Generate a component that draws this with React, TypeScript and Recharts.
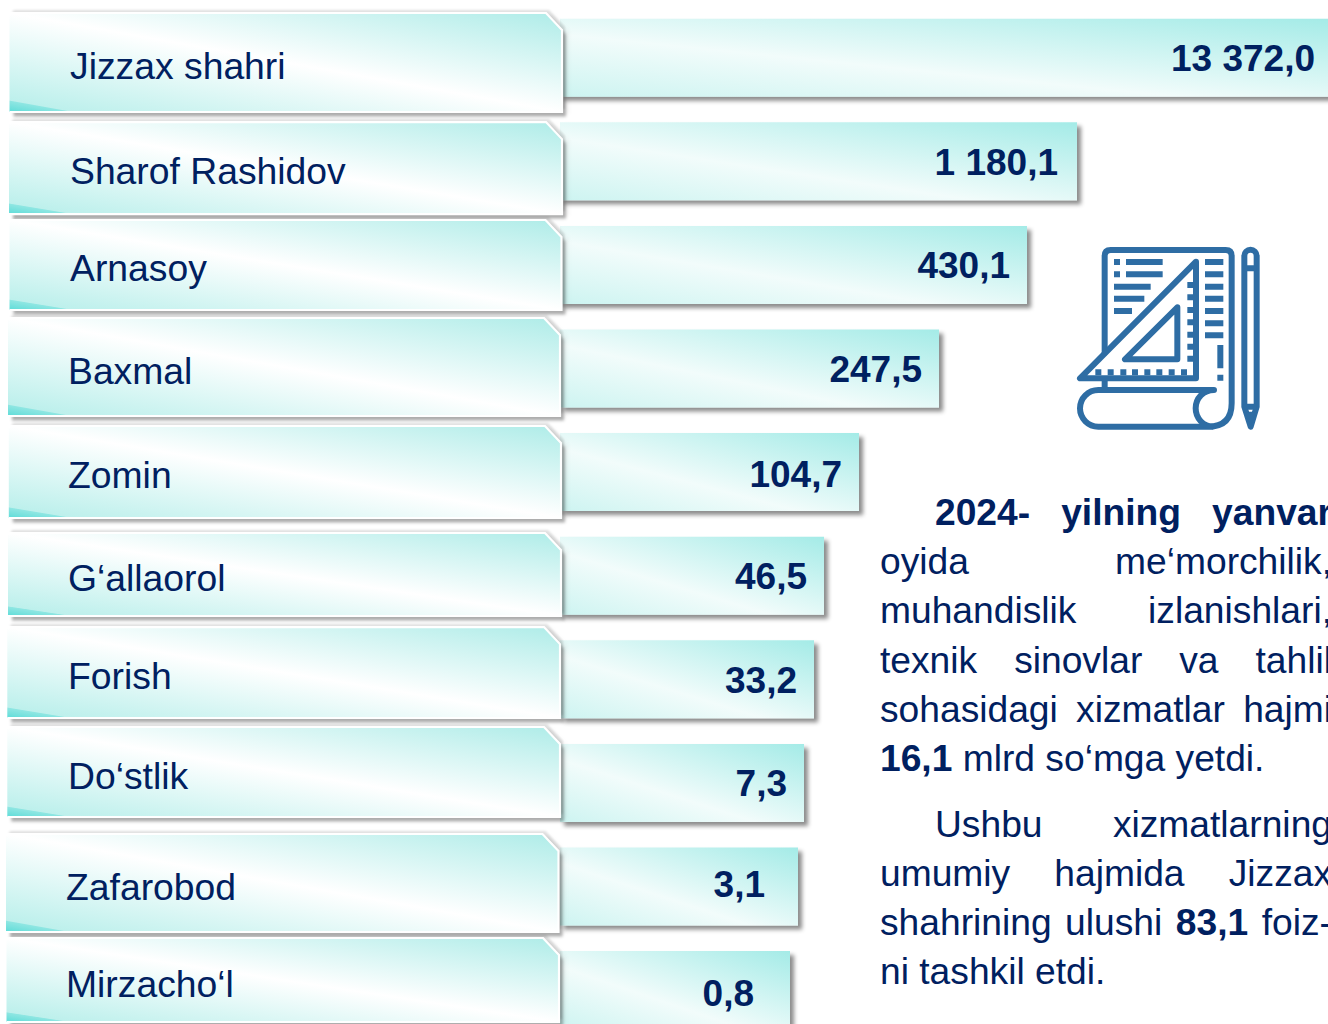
import { Bar, BarChart, LabelList, XAxis, YAxis } from "recharts";

const districts = [
  "Jizzax shahri",
  "Sharof Rashidov",
  "Arnasoy",
  "Baxmal",
  "Zomin",
  "G‘allaorol",
  "Forish",
  "Do‘stlik",
  "Zafarobod",
  "Mirzacho‘l",
];
const volumes = [13372.0, 1180.1, 430.1, 247.5, 104.7, 46.5, 33.2, 7.3, 3.1, 0.8];

const chartData = districts.map((name, i) => ({ name, volume: volumes[i] }));

// the source infographic is not drawn to a linear scale, so the axis is piecewise
const scaleValues = [0, 0.8, 3.1, 7.3, 33.2, 46.5, 104.7, 247.5, 430.1, 1180.1, 13372];
const scaleLengths = [0, 230, 238, 244, 254, 264, 299, 379, 467, 517, 773];

// label plates are hand placed around each row centre
const plateTop = [-44.5, -39, -44.7, -50.3, -45.9, -42.5, -52, -55.7, -52.3, -51.9];
const plateBottom = [54.5, 53, 45.3, 47.7, 46.1, 40.5, 38.9, 34.3, 45.7, 32.1];
const plateLeft = [9.5, 9, 9.5, 8, 8.8, 8, 7.3, 7.3, 6, 6.5];
const plateRight = [562, 562, 561.5, 560, 561, 561, 560, 560, 558.5, 559];
const nameX = [70, 70, 70, 68, 68, 68, 68, 68, 66, 66];
const nameDy = [21.8, 22.6, 16.3, 16, 16.1, 15.5, 9.9, 6.3, 13.7, 6.8];
const valueInset = [18, 19, 17, 17, 17, 17, 17, 17, 33, 36];
const valueDy = [13, 14, 13, 13.7, 15, 13.5, 14, 13.3, 10.7, 16];

const NAVY = "#002060";
const FONT = '"Liberation Sans", Arial, sans-serif';

const paragraphLines = [
  { top: 525, indent: 55, justify: true, parts: [["2024- yilning yanvar", true]] },
  { top: 574, indent: 0, justify: true, parts: [["oyida me‘morchilik,", false]] },
  { top: 623, indent: 0, justify: true, parts: [["muhandislik izlanishlari,", false]] },
  { top: 673, indent: 0, justify: true, parts: [["texnik sinovlar va tahlil", false]] },
  { top: 722, indent: 0, justify: true, parts: [["sohasidagi xizmatlar hajmi", false]] },
  { top: 771, indent: 0, justify: false, parts: [["16,1", true], [" mlrd so‘mga yetdi.", false]] },
  { top: 837, indent: 55, justify: true, parts: [["Ushbu xizmatlarning", false]] },
  { top: 886, indent: 0, justify: true, parts: [["umumiy hajmida Jizzax", false]] },
  { top: 935, indent: 0, justify: true, parts: [["shahrining ulushi ", false], ["83,1", true], [" foiz-", false]] },
  { top: 984, indent: 0, justify: false, parts: [["ni tashkil etdi.", false]] },
] as const;

function piecewiseScale(dom: number[] = [0, 13372], rng: number[] = [0, 1]) {
  const scale: any = (value: number) => {
    let i = 1;
    while (i < scaleValues.length - 1 && value > scaleValues[i]) i++;
    const t = (value - scaleValues[i - 1]) / (scaleValues[i] - scaleValues[i - 1]);
    return rng[0] + scaleLengths[i - 1] + t * (scaleLengths[i] - scaleLengths[i - 1]);
  };
  scale.domain = (d?: number[]) => {
    if (!d) return dom;
    dom = d;
    return scale;
  };
  scale.range = (r?: number[]) => {
    if (!r) return rng;
    rng = r;
    return scale;
  };
  scale.copy = () => piecewiseScale(dom, rng);
  scale.ticks = () => scaleValues;
  scale.tickFormat = () => (v: number) => String(v);
  return scale;
}

function formatVolume(value: number) {
  const [whole, frac] = value.toFixed(1).split(".");
  return `${whole.replace(/\B(?=(\d{3})+$)/g, " ")},${frac}`;
}

function PlateTick({ y, index, payload }: any) {
  const top = y + plateTop[index];
  const bottom = y + plateBottom[index];
  const left = plateLeft[index];
  const right = plateRight[index];
  const outline = `M${left} ${top + 2}Q${left} ${top} ${left + 3} ${top}H${right - 16}L${right} ${top + 17}V${bottom}H${left}`;
  return (
    <g>
      <path d={`${outline}Z`} fill="url(#plateFill)" filter="url(#plateShadow)" />
      <path d={outline} fill="none" stroke="#fff" strokeWidth={2.2} />
      <text
        x={nameX[index]}
        y={y + nameDy[index]}
        fontFamily={FONT}
        fontSize={37.3}
        fill={NAVY}
      >
        {payload.value}
      </text>
    </g>
  );
}

function ValueLabel({ x, y, width, height, value, index }: any) {
  return (
    <text
      x={x + width - valueInset[index]}
      y={y + height / 2 + valueDy[index]}
      textAnchor="end"
      fontFamily={FONT}
      fontSize={37}
      fontWeight="bold"
      fill={NAVY}
    >
      {formatVolume(value)}
    </text>
  );
}

function DraftingIcon() {
  const sheetLines = [
    "M162 96H180M198 96H308M162 133H180M198 133H308",
    "M162 170H272M162 206H253M162 243H216",
    "M435 96H490M435 133H490M435 170H490M435 206H490M435 243H490M435 280H490M435 316H490",
    "M481 345V415M472 443H490",
  ];
  return (
    <svg
      width={220}
      height={210}
      viewBox="0 0 660 630"
      style={{ position: "absolute", left: 1060, top: 230 }}
    >
      <g fill="none" stroke="#2e6da4" strokeWidth={18}>
        <path d="M134 368V78Q134 60 152 60H497Q515 60 515 78V520Q515 590 445 590H115A55 55 0 0 1 115 480H462" strokeLinejoin="round" strokeLinecap="round" />
        <path d="M462 480C430 480 407 505 407 535C407 565 430 590 460 590" />
        <path d="M134 450V480" />
        <path d="M408 95L60 445H408Z" strokeLinejoin="round" />
        <path d="M352 232L195 388H352Z" strokeLinejoin="round" />
        <path d="M382 165H400M382 202H400M382 240H400M382 277H400M382 314H400M382 350H400M382 386H400" />
        <path d="M115 418V436M152 418V436M190 418V436M225 418V436M262 418V436M298 418V436M335 418V436M372 418V436" />
        {sheetLines.map((d) => (
          <path key={d} d={d} />
        ))}
        <path d="M553 78A18.5 18.5 0 0 1 590 78V530L572 590L553 530Z" strokeLinejoin="round" />
        <path d="M553 115H590M553 530H590" />
      </g>
      <path d="M558 545H586L572 590Z" fill="#2e6da4" />
    </svg>
  );
}

function Paragraphs() {
  return (
    <>
      {paragraphLines.map((line) => (
        <div
          key={line.top}
          style={{
            position: "absolute",
            left: 880 + line.indent,
            top: line.top - 35,
            width: 452 - line.indent,
            height: 44,
            lineHeight: "44px",
            fontFamily: FONT,
            fontSize: 37.2,
            color: NAVY,
            textAlign: "justify",
            textAlignLast: line.justify ? "justify" : "left",
          }}
        >
          {line.parts.map(([text, bold], i) => (
            <span key={i} style={{ fontWeight: bold ? "bold" : "normal" }}>
              {text}
            </span>
          ))}
        </div>
      ))}
    </>
  );
}

export default function App() {
  return (
    <div
      style={{
        position: "absolute",
        left: 0,
        top: 0,
        width: 1328,
        height: 1024,
        overflow: "hidden",
        background: "#fff",
      }}
    >
      <BarChart
        width={1340}
        height={1042}
        layout="vertical"
        data={chartData}
        margin={{ top: 5.7, right: 7, bottom: 0.3, left: 0 }}
        barSize={78}
      >
        <defs>
          <linearGradient id="barFill" x1="1" y1="0" x2="0" y2="1">
            <stop offset="0" stopColor="#a4ebe7" />
            <stop offset="0.6" stopColor="#f2fcfb" />
            <stop offset="1" stopColor="#cdf4f1" />
          </linearGradient>
          <linearGradient id="plateFill" x1="1" y1="0" x2="0" y2="1">
            <stop offset="0" stopColor="#aeecE8" />
            <stop offset="0.5" stopColor="#ffffff" />
            <stop offset="0.94" stopColor="#bdf0ec" />
            <stop offset="0.945" stopColor="#8ee6e2" />
            <stop offset="1" stopColor="#5edcd8" />
          </linearGradient>
          <filter id="barShadow" x="-5%" y="-10%" width="110%" height="125%">
            <feDropShadow dx="4" dy="4" stdDeviation="2.2" floodColor="#000" floodOpacity="0.45" />
          </filter>
          <filter id="plateShadow" x="-3%" y="-10%" width="106%" height="125%">
            <feDropShadow dx="3" dy="-3" stdDeviation="1" floodColor="#000" floodOpacity="0.12" />
            <feDropShadow dx="4" dy="4.5" stdDeviation="1.6" floodColor="#000" floodOpacity="0.32" />
          </filter>
        </defs>
        <XAxis
          type="number"
          dataKey="volume"
          hide
          domain={[0, 13372]}
          scale={piecewiseScale()}
        />
        <Bar
          dataKey="volume"
          fill="url(#barFill)"
          filter="url(#barShadow)"
          isAnimationActive={false}
        >
          <LabelList dataKey="volume" content={ValueLabel} />
        </Bar>
        <YAxis
          type="category"
          dataKey="name"
          width={560}
          axisLine={false}
          tickLine={false}
          interval={0}
          tick={PlateTick}
        />
      </BarChart>
      <DraftingIcon />
      <Paragraphs />
    </div>
  );
}
